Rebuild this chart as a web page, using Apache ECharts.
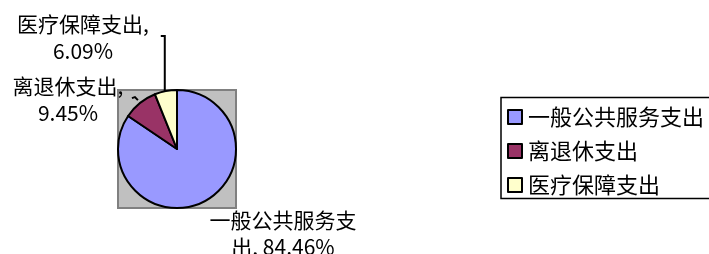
<!DOCTYPE html>
<html>
<head>
<meta charset="utf-8">
<script src="https://cdn.jsdelivr.net/npm/echarts@6/dist/echarts.min.js"></script>
<style>
  html, body { margin: 0; padding: 0; background: #fff; }
  #main { width: 709px; height: 254px; }
</style>
</head>
<body>
<div id="main"></div>
<script>
// 数据
var categories = ["一般公共服务支出", "离退休支出", "医疗保障支出"];
var values = [84.46, 9.45, 6.09];
var labelTexts = ["一般公共服务支\n出, 84.46%", "离退休支出,\n9.45%", "医疗保障支出,\n6.09%"];
var colors = ["#9999ff", "#993366", "#ffffcc"];

// 标签位置
var labelPos = [
  { x: 283, y: 234 },
  { x: 68, y: 100 },
  { x: 83, y: 38 }
];

var chart = echarts.init(document.getElementById("main"));
var font = "'Noto Sans CJK SC', sans-serif";

chart.setOption({
  animation: false,
  color: colors,
  graphic: [
    {
      // 绘图区灰色背景
      type: "rect",
      shape: { x: 118, y: 90, width: 118, height: 118 },
      style: { fill: "#c0c0c0", stroke: "#808080", lineWidth: 2 },
      z: 0
    },
    {
      // 图例外框（右侧超出画面）
      type: "rect",
      shape: { x: 501, y: 97.5, width: 260, height: 101 },
      style: { fill: "none", stroke: "#000", lineWidth: 1.5 },
      z: 0
    }
  ],
  legend: {
    orient: "vertical",
    left: 501,
    top: 97,
    padding: [9, 10, 9, 6],
    itemGap: 12,
    itemWidth: 14,
    itemHeight: 14,
    icon: "rect",
    itemStyle: { borderColor: "#000", borderWidth: 2 },
    textStyle: { fontFamily: font, fontSize: 22, lineHeight: 21, color: "#000", padding: [0, 0, 0, 1] },
    data: categories
  },
  series: [
    {
      type: "pie",
      center: [177, 149],
      radius: 59,
      startAngle: 90,
      clockwise: true,
      z: 2,
      itemStyle: { borderColor: "#000", borderWidth: 2 },
      label: {
        show: true,
        fontFamily: font,
        fontSize: 21,
        lineHeight: 27,
        color: "#000",
        align: "center",
        overflow: "none",
        formatter: function (p) {
          return labelTexts[p.dataIndex];
        }
      },
      labelLine: {
        show: true,
        length: 10,
        length2: 6,
        lineStyle: { color: "#000", width: 2 }
      },
      labelLayout: function (p) {
        var i = p.dataIndex;
        var out = {
          x: labelPos[i].x,
          y: labelPos[i].y,
          align: "center",
          verticalAlign: "middle"
        };
        var pts = p.labelLinePoints;
        if (pts && pts[0]) {
          var s = pts[0];
          if (i === 2) {
            out.labelLinePoints = [[s[0] - 1, s[1]], [s[0] - 1, 36], [s[0] - 5, 36]];
          } else if (i === 1) {
            out.labelLinePoints = [[s[0] - 2, s[1] - 3], [s[0] - 5, s[1] - 6], [s[0] - 8, s[1] - 5]];
          }
        }
        return out;
      },
      data: categories.map(function (name, i) {
        return {
          name: name,
          value: values[i],
          labelLine: { show: i !== 0 }
        };
      })
    }
  ]
});
</script>
</body>
</html>
